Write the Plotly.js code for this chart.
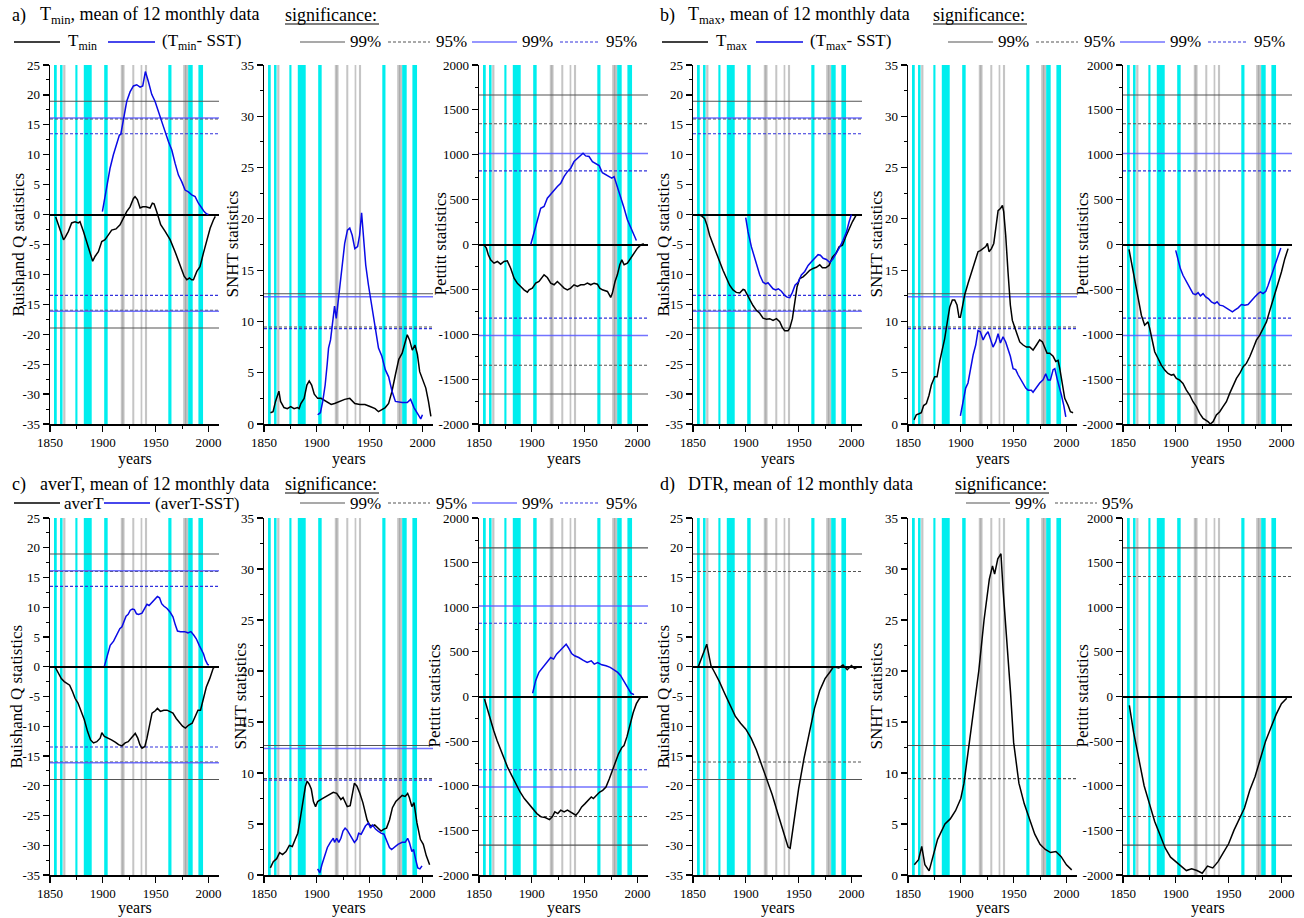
<!DOCTYPE html>
<html><head><meta charset="utf-8">
<script src="https://cdn.plot.ly/plotly-3.0.1.min.js"></script>
<style>html,body{margin:0;padding:0;background:#fff}</style>
</head><body><div id="chart" style="width:1304px;height:918px"></div>
<script>
// ---------------- DATA ----------------
// vertical bands (years): c = cyan, g = gray (overlapping gray bands look darker)
const bandStart = [1853.8,1859.5,1862.5,1874.0,1882.0,1901.3,1917.0,1918.4,1927.9,1935.8,1939.9,1962.0,1976.1,1977.8,1980.8,1990.5];
const bandEnd   = [1856.4,1861.9,1864.6,1876.0,1889.5,1904.6,1919.4,1920.6,1929.8,1937.4,1941.9,1965.0,1979.0,1980.8,1985.1,1994.9];
const bandKind  = ['c','c','g','c','c','c','g','g','g','g','g','c','g','g','c','c'];

// critical values [99%, 95%]
const bqCritBlack = [18.95, 16.0];
const bqCritBlue  = [16.15, 13.5];
const snhtCritBlack = [12.7, 9.45];
const snhtCritBlue  = [12.4, 9.3];
const petCritBlack = [1665, 1345];
const petCritBlue  = [1015, 820];

// y tick values
const bqTicks = [-35,-30,-25,-20,-15,-10,-5,0,5,10,15,20,25];
const snhtTicks = [0,5,10,15,20,25,30,35];
const petTicks = [-2000,-1500,-1000,-500,0,500,1000,1500,2000];
const yearTicks = [1850,1900,1950,2000];

// a) Tmin
const tminBQ_black = [[1855.4,-0.4],[1857.9,-1.7],[1860.4,-3.2],[1862.8,-4.2],[1864.4,-3.8],[1867.4,-2.8],[1870.5,-1.4],[1873.7,-1.2],[1876.8,-1.4],[1878.4,-1.2],[1881.6,-2.8],[1885.4,-5.1],[1887.9,-6.7],[1890.4,-7.8],[1892.6,-7.0],[1895.8,-6.2],[1899,-4.5],[1902.1,-4.2],[1905.3,-3.4],[1908.4,-2.6],[1912.5,-2.4],[1916.3,-1.7],[1919.5,-0.6],[1922.6,0.5],[1925.8,1.3],[1929,2.7],[1930.5,3.0],[1932.7,2.5],[1935.3,1.1],[1937.8,1.3],[1940.9,1.3],[1944.7,1.1],[1946.9,1.9],[1948.5,1.8],[1951,0.5],[1954.8,-1.7],[1959,-2.8],[1963.7,-4.2],[1968.4,-6.2],[1973.2,-8.4],[1977,-10.3],[1979.5,-10.9],[1982,-10.6],[1984.2,-10.9],[1985.8,-10.9],[1989,-9.5],[1992,-8.7],[1995.3,-6.4],[1998.4,-4.2],[2001.6,-2.3],[2004.7,-0.9],[2006.5,-0.3]];
const tminBQ_blue = [[1899.6,0.5],[1903.7,4.4],[1906.8,7.7],[1910,10],[1913.2,11.9],[1915.7,13.3],[1917,13.4],[1919.5,15.8],[1922.6,18.9],[1925.8,20.5],[1929,21.5],[1932.1,21.7],[1935.3,21.3],[1937.8,21.5],[1940.3,23.9],[1943.2,22.2],[1946.3,20.1],[1949.5,18.9],[1953.6,16.9],[1957.4,14.7],[1962.1,12.2],[1965.3,10.8],[1968.4,8.6],[1971.6,6.6],[1974.7,5.5],[1977.9,4.1],[1981,3.8],[1984.2,3.3],[1987.4,3.0],[1990.5,1.9],[1993.7,1.1],[1995.9,0.5],[1998.4,0.1],[2000,0]];
const tminSNHT_black = [[1856.1,1.1],[1858.6,1.2],[1860.9,2.2],[1864.1,3.2],[1865.7,2.2],[1868.9,1.6],[1872.1,1.5],[1875.3,1.7],[1878.5,1.5],[1881.7,1.6],[1883.3,1.5],[1884.9,2.0],[1888,2.5],[1890.6,3.8],[1892.8,4.2],[1895.1,3.8],[1897.6,2.9],[1900.8,2.5],[1904,2.5],[1908.8,2.2],[1913.6,1.9],[1916.8,2.0],[1921.6,2.2],[1926.4,2.4],[1931.2,2.5],[1936,2.0],[1940.8,1.9],[1945.6,1.9],[1950.4,1.7],[1955.2,1.5],[1958.4,1.2],[1961.6,1.4],[1964.8,1.6],[1968,2.0],[1971.2,3.2],[1974.4,4.8],[1977.6,6.3],[1980.8,6.9],[1983.4,7.9],[1985.6,8.7],[1987.8,8.2],[1990.4,7.2],[1992.9,7.7],[1995.2,6.8],[1997.4,5.1],[2000,4.3],[2003.2,3.5],[2005.7,2.2],[2008,0.75]];
const tminSNHT_blue = [[1900.8,0.9],[1903.4,1.1],[1905.6,2.2],[1907.9,3.8],[1909.8,5.8],[1911.1,7.4],[1913,8.2],[1914.3,9.4],[1916.8,11.5],[1918.4,10.3],[1920,11.8],[1922,13.6],[1923.9,15.8],[1926.4,17.6],[1929,18.9],[1931.2,19.1],[1933.5,18.4],[1936,17.1],[1938.6,17.3],[1940.5,18.4],[1942.4,20.6],[1944,18.6],[1946.3,15.5],[1948.8,13.6],[1952,11.6],[1955.2,9.2],[1958.4,7.4],[1961.6,6.6],[1964.8,5.3],[1968,4.6],[1971.2,3.2],[1974.4,2.2],[1980.8,2.1],[1985.6,2.1],[1988.8,2.4],[1992,1.6],[1995.2,1.1],[1998.4,0.5],[2000,0.9]];
const tminPet_black = [[1854.7,-4],[1857,-41],[1858.8,-115],[1861,-171],[1864.2,-208],[1867.4,-189],[1870.5,-219],[1873.7,-189],[1876.8,-182],[1880,-264],[1883.2,-375],[1886.3,-431],[1889.5,-468],[1892.6,-505],[1895.8,-531],[1897.4,-505],[1900.5,-486],[1903.7,-431],[1906.8,-412],[1910,-368],[1911.6,-338],[1914.7,-368],[1917.9,-431],[1921.1,-449],[1924.2,-412],[1927.4,-449],[1930.5,-486],[1933.7,-505],[1936.8,-486],[1940,-449],[1943.2,-468],[1946.3,-449],[1949.5,-449],[1952.6,-431],[1955.8,-449],[1959,-431],[1962.1,-442],[1964.3,-486],[1966.8,-505],[1971.6,-523],[1974.7,-590],[1976.3,-542],[1978.8,-412],[1981,-338],[1983.3,-226],[1985.2,-171],[1987.4,-226],[1990.5,-208],[1993.7,-152],[1996.8,-97],[2000,-41],[2003.2,-5],[2006,10]];
const tminPet_blue = [[1899,0],[1902.1,144],[1905.3,293],[1908.4,404],[1911.6,423],[1914.7,516],[1917.9,560],[1921.1,608],[1924.2,646],[1927.4,683],[1930.5,757],[1933.7,812],[1936.8,850],[1940,924],[1943.2,961],[1946.3,1000],[1948.5,1017],[1951,987],[1954.2,980],[1957.4,924],[1960.5,900],[1963.7,880],[1966.8,800],[1970,780],[1973.2,760],[1975.7,740],[1977.9,757],[1981,646],[1984.2,516],[1987.4,404],[1990.5,275],[1993.7,182],[1996.8,89],[1999,45]];

// b) Tmax
const tmaxBQ_black = [[1854.7,0],[1857.9,-0.2],[1861.1,-0.7],[1863.3,-1.8],[1865.8,-3.5],[1869,-5.1],[1872.1,-6.5],[1875.3,-7.9],[1878.4,-9.3],[1881.6,-10.7],[1884.7,-11.8],[1887.9,-12.6],[1891,-13.0],[1894.2,-13.1],[1897.4,-12.5],[1898.9,-12.6],[1901.2,-13.4],[1903.7,-14.3],[1906.8,-15.2],[1910,-16.0],[1913.2,-16.5],[1916.3,-17.3],[1919.5,-17.5],[1922.6,-17.4],[1925.8,-17.7],[1929,-17.4],[1932.1,-17.9],[1934.6,-18.9],[1936.8,-19.4],[1940,-19.4],[1941.6,-19.0],[1944.1,-17.4],[1946.3,-14.6],[1948.5,-12.1],[1951,-10.7],[1954.2,-10.4],[1957.4,-9.9],[1960.5,-9.3],[1963.7,-9.0],[1966.8,-8.8],[1970,-8.4],[1972.5,-8.9],[1975.7,-8.9],[1978.8,-8.5],[1982,-7.1],[1985.2,-6.5],[1988.3,-5.4],[1991.5,-5.1],[1994.6,-3.7],[1997.8,-2.4],[2000.9,-1.2],[2004.1,-0.2],[2005.4,0]];
const tmaxBQ_blue = [[1899.9,-0.5],[1902.1,-2.9],[1905.3,-5.4],[1907.5,-6.8],[1910,-8.5],[1913.2,-10.1],[1916.3,-11.3],[1918.8,-11.6],[1921,-11.4],[1923.3,-11.8],[1925.8,-12.4],[1928.3,-12.6],[1930.8,-12.4],[1933.7,-12.8],[1936.8,-13.5],[1939.1,-13.8],[1941.6,-13.9],[1944.1,-13.0],[1946.6,-11.8],[1949.5,-11.3],[1952.6,-10.1],[1955.8,-9.5],[1959,-8.5],[1962.1,-7.9],[1965.3,-7.3],[1968.4,-6.7],[1970.6,-6.8],[1973.2,-7.3],[1976.3,-7.5],[1979.5,-8.0],[1982.6,-7.4],[1985.8,-6.5],[1989,-5.4],[1992.1,-4.3],[1995.3,-2.9],[1997.8,-1.2],[2000,0]];
const tmaxSNHT_black = [[1855.7,0.4],[1857.9,0.9],[1860.4,1.0],[1862.6,1.1],[1864.8,1.8],[1867.4,2.0],[1869.9,2.8],[1872.1,3.8],[1875.3,4.6],[1877.5,4.6],[1880,6.1],[1882.5,7.2],[1884.7,8.3],[1887.3,10.0],[1889.5,11.4],[1892,12.1],[1894.2,12.1],[1896.4,11.6],[1898.3,10.4],[1899.6,10.4],[1901.5,11.4],[1903.7,12.6],[1906.8,13.7],[1910,14.8],[1913.2,15.8],[1916.3,16.8],[1918.5,16.9],[1921.1,17.1],[1923.6,17.3],[1925.2,17.6],[1926.7,16.8],[1929,17.1],[1931.2,17.6],[1933,19.0],[1935.3,20.8],[1937.5,21.0],[1939.4,21.3],[1940.6,20.7],[1942.5,18.4],[1944.7,14.8],[1946.9,11.6],[1948.8,10.1],[1951,9.5],[1953.3,8.8],[1955.8,8.0],[1959,7.7],[1962.1,7.5],[1965.3,7.5],[1968.4,7.2],[1971.6,7.7],[1974.7,8.2],[1977.3,8.0],[1979.5,7.4],[1981.7,6.9],[1984.2,6.9],[1987.4,6.6],[1989.9,6.1],[1992.1,6.2],[1993.7,5.4],[1996.2,3.8],[1998.4,2.5],[2001.6,1.8],[2003.8,1.2],[2006.3,1.1]];
const tmaxSNHT_blue = [[1899.6,0.8],[1902.1,2.2],[1904.6,3.5],[1906.8,4.0],[1909.1,5.3],[1911.6,6.7],[1914.1,7.7],[1916.3,9.1],[1918.5,9.0],[1921.1,8.2],[1923.6,8.7],[1925.8,9.0],[1928,8.3],[1930.5,7.5],[1933,8.0],[1935.3,8.8],[1937.5,7.9],[1940,8.5],[1942.5,8.0],[1944.7,7.4],[1946.9,6.6],[1949.5,5.4],[1952,5.3],[1954.2,4.8],[1956.4,4.4],[1959,4.0],[1961.5,3.5],[1963.7,3.3],[1966.8,3.3],[1968.4,3.1],[1971.6,3.6],[1974.7,4.0],[1977.9,4.3],[1980.4,4.9],[1982.6,4.3],[1984.8,4.3],[1987.4,5.3],[1989,5.4],[1991.2,4.4],[1993,3.8],[1995.3,2.8],[1997.5,1.8],[1999.4,0.7]];
const tmaxPet_black = [[1855.7,-54],[1857.9,-195],[1860.1,-343],[1862.6,-491],[1865.2,-658],[1867.4,-788],[1870.5,-899],[1873.7,-862],[1875.3,-936],[1877.8,-1084],[1880,-1195],[1883.2,-1270],[1886.3,-1344],[1889.5,-1399],[1892.6,-1437],[1895.8,-1455],[1898,-1448],[1900.5,-1492],[1903.7,-1511],[1906.8,-1548],[1910,-1622],[1913.2,-1677],[1916.3,-1752],[1919.5,-1807],[1922.6,-1881],[1925.8,-1937],[1928.3,-1955],[1930.5,-1974],[1932.7,-2000],[1935.3,-1974],[1938.4,-1900],[1941.6,-1863],[1944.7,-1807],[1947.9,-1752],[1951,-1659],[1954.2,-1566],[1957.4,-1492],[1960.5,-1437],[1963.7,-1363],[1966.8,-1325],[1970,-1251],[1973.2,-1158],[1976.3,-1066],[1979.5,-1010],[1982.6,-929],[1985.8,-862],[1990.5,-677],[1995.3,-502],[2000,-306],[2003.2,-158],[2006.3,-46]];
const tmaxPet_blue = [[1899.9,-65],[1902.1,-158],[1904.3,-269],[1906.8,-343],[1910,-417],[1913.2,-491],[1916.3,-547],[1918.8,-558],[1921.1,-536],[1923.3,-573],[1925.8,-547],[1928.3,-584],[1930.8,-602],[1933.7,-639],[1936.8,-658],[1939.1,-639],[1941.6,-676],[1944.7,-684],[1947.9,-706],[1951,-732],[1953.6,-750],[1955.8,-732],[1959,-706],[1962.1,-669],[1965.3,-676],[1968.4,-669],[1971.6,-621],[1974.7,-584],[1977.9,-547],[1980.1,-528],[1982.6,-547],[1985.2,-521],[1987.4,-454],[1990.5,-343],[1993.7,-232],[1996.8,-121],[1999.4,-39]];

// c) averT
const avgBQ_black = [[1854.7,0],[1857.9,-1.1],[1860.7,-2.0],[1863.5,-2.5],[1866.6,-2.8],[1868.6,-3.1],[1871.4,-4.2],[1873.7,-5.3],[1876.5,-6.1],[1879.3,-7.3],[1882.5,-8.9],[1885.6,-10.9],[1888.4,-12.3],[1891.2,-12.8],[1894.3,-12.6],[1897.5,-12.0],[1899.1,-11.1],[1901.5,-11.7],[1904.2,-12.0],[1908.2,-12.3],[1912.1,-12.7],[1914.9,-13.1],[1918.1,-13.3],[1921.2,-12.8],[1924,-12.6],[1926.8,-12.0],[1929.2,-11.4],[1930.7,-11.2],[1933.1,-12.0],[1935.1,-13.1],[1937.1,-13.7],[1939.8,-13.4],[1941.8,-12.0],[1943.8,-10.0],[1946.6,-7.8],[1949.7,-7.4],[1951.7,-7.0],[1954.5,-7.5],[1957.7,-7.3],[1960.8,-7.3],[1963.6,-7.5],[1966.4,-7.8],[1969.5,-8.7],[1972.7,-9.5],[1975.5,-10.0],[1978.2,-10.3],[1981.4,-9.8],[1984.6,-9.5],[1987.3,-8.4],[1990.1,-7.3],[1992.5,-7.3],[1995.3,-5.3],[1998,-3.4],[2001.2,-2.0],[2004.4,-0.3],[2005.9,0]];
const avgBQ_blue = [[1901.5,0.1],[1904.2,1.7],[1907,3.6],[1910.2,4.3],[1913.3,5.3],[1916.1,6.4],[1918.1,6.7],[1920.5,7.8],[1922,8.5],[1924,8.8],[1926,9.5],[1928,9.7],[1929.9,9.6],[1931.9,8.9],[1933.9,8.8],[1937.1,9.0],[1939.8,10.0],[1941.8,10.5],[1943.8,10.3],[1945.8,10.7],[1947.8,11.2],[1949.7,11.4],[1951.7,11.8],[1953.7,11.6],[1955.7,10.6],[1957.7,10.2],[1960.8,9.8],[1963.6,9.2],[1966.4,8.4],[1968.7,7.0],[1970.7,6.0],[1973.5,5.9],[1977.4,5.9],[1980.6,5.7],[1983.4,5.9],[1986.2,5.3],[1988.5,4.7],[1991.3,3.6],[1993.3,2.8],[1995.3,2.2],[1997.2,1.1],[1999.2,0.4],[2000.4,0.3]];
const avgSNHT_black = [[1856,0.7],[1858.8,1.3],[1862,1.6],[1864.8,2.2],[1867.6,2.0],[1870.8,2.3],[1874,2.9],[1876.8,2.8],[1879.6,3.5],[1882,4.1],[1884,5.3],[1886,6.6],[1887.6,7.4],[1889.2,8.7],[1890.8,9.2],[1892.8,8.9],[1894.8,8.4],[1896.8,7.2],[1898.8,6.7],[1900.8,7.2],[1903.6,7.4],[1906.8,7.6],[1910,7.8],[1912.8,8.0],[1915.6,8.1],[1918.8,8.0],[1920.8,7.7],[1922.8,7.4],[1924.8,7.6],[1926.8,7.1],[1928.8,6.7],[1931.6,6.8],[1934,8.0],[1935.6,9.0],[1938,8.7],[1940.8,8.0],[1943.6,7.1],[1946,6.1],[1947.6,5.4],[1950,4.9],[1952.8,4.8],[1954.8,4.9],[1958,4.6],[1960.8,4.3],[1963.6,4.5],[1966,4.6],[1968.8,5.4],[1971.6,6.6],[1974.8,7.2],[1978,7.5],[1980.8,7.8],[1983.6,7.7],[1986,8.0],[1987.6,7.6],[1990,6.7],[1992,7.1],[1994.8,5.1],[1998,3.5],[2000.8,3.0],[2003.6,1.9],[2006.8,1.0]];
const avgSNHT_blue = [[1900.8,0.6],[1902.8,0.2],[1904.8,1.0],[1907.6,1.9],[1910,2.7],[1912.8,3.2],[1915.6,3.6],[1916.8,3.2],[1918.8,3.6],[1920.8,3.2],[1922.8,3.6],[1924.8,4.3],[1926.8,4.6],[1928.8,4.4],[1930.8,4.0],[1932.8,3.6],[1935.6,3.2],[1938,3.5],[1939.6,4.1],[1942,4.0],[1943.6,4.3],[1946,4.8],[1948.8,5.1],[1950.8,4.6],[1952.8,4.9],[1955.6,4.5],[1958,4.3],[1960.8,4.1],[1963.6,4.0],[1966.8,3.2],[1968.8,2.7],[1970.8,2.5],[1974,2.8],[1976.8,3.0],[1980.8,3.2],[1983.6,3.2],[1986,3.6],[1987.6,3.2],[1990,2.3],[1991.6,2.5],[1993.6,1.5],[1995.6,0.7],[1997.6,0.6],[1999.6,0.9]];
const avgPet_black = [[1855.2,-28],[1858.3,-158],[1861.1,-270],[1863.9,-381],[1867.1,-493],[1870.2,-586],[1873,-679],[1877,-791],[1880.9,-884],[1884.9,-977],[1888.9,-1070],[1892.9,-1144],[1896.8,-1200],[1900.8,-1256],[1904.8,-1312],[1908.7,-1349],[1912.7,-1356],[1916.7,-1379],[1919.4,-1349],[1921.8,-1293],[1924.6,-1312],[1927.4,-1274],[1930.6,-1293],[1933.7,-1274],[1936.5,-1293],[1939.3,-1312],[1941.7,-1330],[1944.4,-1293],[1947.2,-1237],[1950.4,-1200],[1953.6,-1163],[1956.3,-1126],[1958.3,-1144],[1961.5,-1107],[1964.3,-1070],[1967.1,-1051],[1970.2,-1014],[1973.4,-921],[1976.2,-828],[1979,-735],[1982.1,-642],[1985.3,-570],[1987.3,-550],[1990.1,-450],[1993,-300],[1996,-180],[1999,-80],[2002,-20],[2004.5,0]];
const avgPet_blue = [[1900.8,36],[1903.6,177],[1906.7,270],[1910.7,326],[1914.7,381],[1917.9,437],[1920.6,419],[1923.4,474],[1926.6,512],[1929.8,549],[1932.5,586],[1934.5,549],[1937.7,482],[1940.5,456],[1944.4,437],[1948.4,407],[1952.4,381],[1956.3,400],[1959.1,363],[1962.3,381],[1966.3,355],[1970.2,344],[1974.2,326],[1978.2,296],[1981.3,270],[1984.1,233],[1986.1,195],[1988.9,140],[1991.3,84],[1994,36],[1996.8,21]];

// d) DTR
const dtrBQ_black = [[1855,0],[1858,1.5],[1861,3.0],[1863,3.8],[1865,2.0],[1867,0.2],[1870,-0.8],[1875,-2.5],[1880,-4.5],[1885,-6.5],[1890,-8.3],[1895,-9.5],[1900,-10.5],[1905,-12],[1910,-14],[1915,-16.5],[1920,-19],[1925,-21.5],[1930,-24.5],[1935,-27.5],[1938,-29.5],[1940,-30.3],[1942,-30.5],[1944,-28],[1947,-24],[1950,-20.5],[1955,-15.5],[1960,-11],[1965,-7],[1970,-4],[1975,-2],[1980,-0.8],[1983,0],[1988,-0.2],[1992,0.3],[1996,-0.5],[2000,0.2],[2003,-0.3],[2006,0]];
const dtrSNHT_black = [[1856,1.0],[1860,1.5],[1863,2.8],[1866,1.0],[1870,0.4],[1873,1.5],[1878,3.5],[1885,5],[1890,5.5],[1895,6.3],[1900,7.5],[1903,9],[1907,12],[1912,16],[1917,20],[1922,25],[1927,29],[1930,30.3],[1932,29.5],[1935,31],[1938,31.5],[1940,28],[1943,24],[1947,18],[1950,13],[1955,9],[1960,7],[1965,5.5],[1970,4],[1975,3],[1980,2.5],[1985,2.2],[1990,2.3],[1995,1.8],[2000,1],[2005,0.5]];
const dtrPet_black = [[1856,-100],[1860,-400],[1865,-700],[1870,-1000],[1875,-1200],[1880,-1400],[1885,-1550],[1890,-1700],[1895,-1800],[1900,-1850],[1905,-1900],[1910,-1950],[1915,-1930],[1920,-1950],[1925,-1980],[1930,-1900],[1935,-1920],[1940,-1850],[1945,-1750],[1950,-1650],[1955,-1500],[1960,-1380],[1965,-1250],[1970,-1050],[1975,-900],[1980,-700],[1985,-500],[1990,-350],[1995,-200],[2000,-80],[2005,-20]];

// ---------------- LAYOUT ----------------
const W = 1304, H = 918;
const FONT = 'Liberation Serif';
const colsPx = [[50,219],[264,433],[479,648],[693,862],[908,1077],[1123,1292]];
const rowsPx = [[65,424],[518,875]];
const yTitleX = [[18,232,440,663,876,1082],[16,240,434,663,876,1082]];
const yearsY = [459, 908];

const panels = [
  {row:0,col:0,kind:'bq',black:tminBQ_black,blue:tminBQ_blue},
  {row:0,col:1,kind:'snht',black:tminSNHT_black,blue:tminSNHT_blue},
  {row:0,col:2,kind:'pet',black:tminPet_black,blue:tminPet_blue},
  {row:0,col:3,kind:'bq',black:tmaxBQ_black,blue:tmaxBQ_blue},
  {row:0,col:4,kind:'snht',black:tmaxSNHT_black,blue:tmaxSNHT_blue},
  {row:0,col:5,kind:'pet',black:tmaxPet_black,blue:tmaxPet_blue},
  {row:1,col:0,kind:'bq',black:avgBQ_black,blue:avgBQ_blue},
  {row:1,col:1,kind:'snht',black:avgSNHT_black,blue:avgSNHT_blue},
  {row:1,col:2,kind:'pet',black:avgPet_black,blue:avgPet_blue},
  {row:1,col:3,kind:'bq',black:dtrBQ_black,blue:null},
  {row:1,col:4,kind:'snht',black:dtrSNHT_black,blue:null},
  {row:1,col:5,kind:'pet',black:dtrPet_black,blue:null}
];

const kindInfo = {
  bq:  {range:[-35,25], ticks:bqTicks, minorStep:2.5, title:'Buishand Q statistics', critB:bqCritBlack, critU:bqCritBlue, sym:true},
  snht:{range:[0,35], ticks:snhtTicks, minorStep:2.5, title:'SNHT statistics', critB:snhtCritBlack, critU:snhtCritBlue, sym:false},
  pet: {range:[-2000,2000], ticks:petTicks, minorStep:250, title:'Pettitt statistics', critB:petCritBlack, critU:petCritBlue, sym:true}
};

const BAND_CYAN = 'rgb(0,238,238)';
const BAND_GRAY = 'rgba(150,150,150,0.55)';
const BLUE = '#0a0ae6';
const C99K = '#555555', C95K = '#555555', C99B = 'rgba(90,90,255,0.85)', C95B = '#3232dc';

const X = p => p / W;
const Y = p => 1 - p / H;

const traces = [], shapes = [], annotations = [];
const layout = {
  width: W, height: H, margin:{l:0,r:0,t:0,b:0},
  paper_bgcolor:'#ffffff', plot_bgcolor:'rgba(0,0,0,0)',
  showlegend:false, font:{family:FONT, color:'#000', size:13}
};

panels.forEach((p, i) => {
  const suf = i === 0 ? '' : String(i + 1);
  const info = kindInfo[p.kind];
  const xa = 'xaxis' + suf, ya = 'yaxis' + suf;
  const xr = 'x' + suf, yr = 'y' + suf;
  const minorY = [];
  for (let v = info.range[0] + info.minorStep; v < info.range[1]; v += 2 * info.minorStep) minorY.push(v);
  layout[xa] = {
    domain:[X(colsPx[p.col][0]), X(colsPx[p.col][1])], anchor: yr,
    range:[1850, 2010], tickmode:'array', tickvals: yearTicks, ticktext: yearTicks.map(String),
    minor:{tickvals:[1875,1925,1975], ticks:'outside', ticklen:3, tickcolor:'#000', tickwidth:1},
    ticks:'outside', ticklen:6, tickwidth:1.2, tickcolor:'#000',
    showline:true, linecolor:'#000', linewidth:1.5, showgrid:false, zeroline:false,
    tickfont:{family:FONT, size:13, color:'#000'}, fixedrange:true
  };
  layout[ya] = {
    domain:[Y(rowsPx[p.row][1]), Y(rowsPx[p.row][0])], anchor: xr,
    range: info.range, tickmode:'array', tickvals: info.ticks, ticktext: info.ticks.map(v => String(v)),
    minor:{tickvals:minorY, ticks:'outside', ticklen:3, tickcolor:'#000', tickwidth:1},
    ticks:'outside', ticklen:6, tickwidth:1.2, tickcolor:'#000',
    showline:true, linecolor:'#000', linewidth:1.5, showgrid:false,
    zeroline: p.kind !== 'snht', zerolinecolor:'#000', zerolinewidth:2,
    tickfont:{family:FONT, size:13, color:'#000'}, fixedrange:true
  };
  // bands
  bandStart.forEach((b, k) => {
    shapes.push({type:'rect', xref:xr, yref:yr + ' domain', x0:b, x1:bandEnd[k], y0:0, y1:1,
      fillcolor: bandKind[k] === 'c' ? BAND_CYAN : BAND_GRAY, line:{width:0}, layer:'below'});
  });
  // critical lines
  const addH = (v, color, dash, width) => {
    shapes.push({type:'line', xref:xr + ' domain', yref:yr, x0:0, x1:1, y0:v, y1:v,
      line:{color, width, dash}, layer:'below'});
    if (info.sym) shapes.push({type:'line', xref:xr + ' domain', yref:yr, x0:0, x1:1, y0:-v, y1:-v,
      line:{color, width, dash}, layer:'below'});
  };
  addH(info.critB[0], C99K, 'solid', 1.1);
  addH(info.critB[1], C95K, '3px,2px', 1.1);
  if (p.blue) {
    addH(info.critU[0], C99B, 'solid', 1.5);
    addH(info.critU[1], C95B, '3px,2px', 1.1);
  }
  // series
  traces.push({type:'scatter', mode:'lines', xaxis:xr, yaxis:yr,
    x: p.black.map(d => d[0]), y: p.black.map(d => d[1]),
    line:{color:'#000', width:1.5}, hoverinfo:'skip'});
  if (p.blue) traces.push({type:'scatter', mode:'lines', xaxis:xr, yaxis:yr,
    x: p.blue.map(d => d[0]), y: p.blue.map(d => d[1]),
    line:{color:BLUE, width:1.5}, hoverinfo:'skip'});
  // axis titles
  const cy = (rowsPx[p.row][0] + rowsPx[p.row][1]) / 2;
  annotations.push({xref:'paper', yref:'paper', x:X(yTitleX[p.row][p.col]), y:Y(cy), text:info.title,
    textangle:-90, showarrow:false, xanchor:'center', yanchor:'middle', font:{family:FONT, size:17, color:'#000'}});
  annotations.push({xref:'paper', yref:'paper', x:X((colsPx[p.col][0] + colsPx[p.col][1]) / 2), y:Y(yearsY[p.row]),
    text:'years', showarrow:false, xanchor:'center', yanchor:'middle', font:{family:FONT, size:16, color:'#000'}});
});

// ---------- titles and legends ----------
function txt(x, y, s, size) {
  annotations.push({xref:'paper', yref:'paper', x:X(x), y:Y(y), text:s, showarrow:false,
    xanchor:'left', yanchor:'middle', font:{family:FONT, size:size || 18, color:'#000'}});
}
function seg(x0, x1, y, color, dash, width) {
  shapes.push({type:'line', xref:'paper', yref:'paper', x0:X(x0), x1:X(x1), y0:Y(y), y1:Y(y),
    line:{color:color, width: width || 1.3, dash: dash || 'solid'}, layer:'above'});
}
function group(ox, ty, ly, label, name, legendItems, full) {
  txt(ox + 10, ty, label);
  txt(ox + 38, ty, name + ', mean of 12 monthly data');
  const sx = full ? ox + 283 : ox + 305;
  txt(sx, ty, 'significance:');
  seg(sx + 2, sx + 96, ty + 9, '#000', 'solid', 1);
  if (full) {
    const L = legendItems;
    seg(ox + 14, ox + 60, ly, '#000', 'solid', 1.6);
    txt(ox + L.t1, ly, L.n1, 17);
    seg(ox + L.b0, ox + L.b1, ly, BLUE, 'solid', 1.6);
    txt(ox + L.t2, ly, L.n2, 17);
    seg(ox + 300, ox + 345, ly, C99K, 'solid', 1.1);
    txt(ox + 348, ly, '99%', 17);
    seg(ox + 388, ox + 430, ly, C95K, '3px,2px', 1.1);
    txt(ox + 434, ly, '95%', 17);
    seg(ox + 472, ox + 517, ly, C99B, 'solid', 1.5);
    txt(ox + 520, ly, '99%', 17);
    seg(ox + 560, ox + 600, ly, C95B, '3px,2px', 1.1);
    txt(ox + 604, ly, '95%', 17);
  } else {
    seg(ox + 318, ox + 362, ly, C99K, 'solid', 1.1);
    txt(ox + 365, ly, '99%', 17);
    seg(ox + 407, ox + 449, ly, C95K, '3px,2px', 1.1);
    txt(ox + 452, ly, '95%', 17);
  }
}
group(0, 15, 42, 'a)', 'T<sub>min</sub>', {t1:66, n1:'T<sub>min</sub>', b0:108, b1:155, t2:160, n2:'(T<sub>min</sub>- SST)'}, true);
group(648, 15, 42, 'b)', 'T<sub>max</sub>', {t1:66, n1:'T<sub>max</sub>', b0:108, b1:155, t2:160, n2:'(T<sub>max</sub>- SST)'}, true);
group(0, 484, 503, 'c)', 'averT', {t1:62, n1:'averT', b0:104, b1:150, t2:153, n2:'(averT-SST)'}, true);
group(648, 484, 503, 'd)', 'DTR', null, false);

layout.shapes = shapes;
layout.annotations = annotations;
Plotly.newPlot('chart', traces, layout, {staticPlot:true, displayModeBar:false});
</script></body></html>
